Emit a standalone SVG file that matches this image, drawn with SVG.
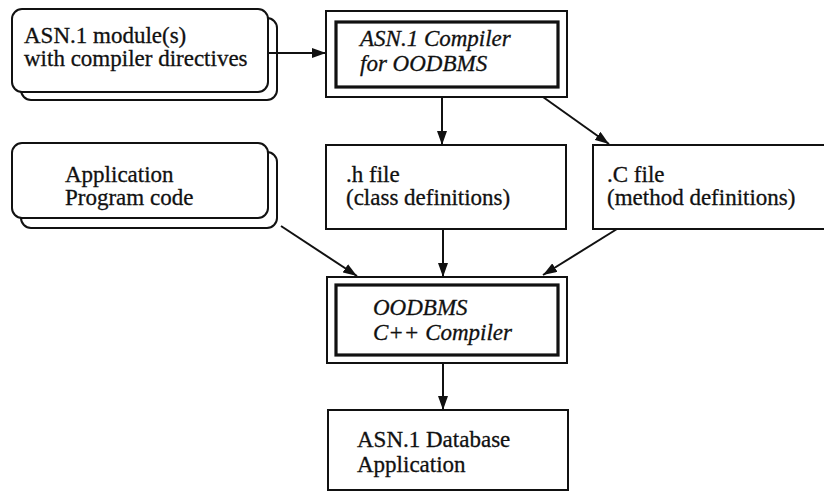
<svg xmlns="http://www.w3.org/2000/svg" width="824" height="495" viewBox="0 0 824 495">
  <style>
    .box { fill: #fff; stroke: #111; stroke-width: 2; }
    .outer { fill: #fff; stroke: #111; stroke-width: 2; }
    .inner { fill: none; stroke: #111; stroke-width: 3.2; }
    .label { font-family: "Liberation Serif", "Times New Roman", serif; font-size: 23px; fill: #111; stroke: #111; stroke-width: 0.3; }
    .ital { font-style: italic; }
    .edge { stroke: #111; stroke-width: 2; fill: none; marker-end: url(#head); }
  </style>
  <defs>
    <marker id="head" viewBox="0 0 14 10" refX="14" refY="5" markerWidth="14" markerHeight="10" markerUnits="userSpaceOnUse" orient="auto">
      <path d="M0,0 L14,5 L0,10 Z" fill="#111"/>
    </marker>
  </defs>
  <rect width="824" height="495" fill="#fff"/>

  <!-- source modules (stacked sheets) -->
  <g id="asn1-modules">
    <rect class="box" x="21" y="18" width="256" height="82" rx="10"/>
    <rect class="box" x="12" y="9" width="256" height="83" rx="10"/>
    <text class="label" x="24" y="43">ASN.1 module(s)</text>
    <text class="label" x="24" y="66">with compiler directives</text>
  </g>

  <!-- ASN.1 compiler -->
  <g id="asn1-compiler">
    <rect class="outer" x="326" y="11" width="241" height="86"/>
    <rect class="inner" x="336" y="22" width="222" height="65"/>
    <text class="label ital" x="360" y="46">ASN.1 Compiler</text>
    <text class="label ital" x="360" y="71">for OODBMS</text>
  </g>

  <!-- application code (stacked sheets) -->
  <g id="app-code">
    <rect class="box" x="21" y="152" width="256" height="76" rx="10"/>
    <rect class="box" x="12" y="143" width="256" height="75" rx="10"/>
    <text class="label" x="65" y="182">Application</text>
    <text class="label" x="65" y="205">Program code</text>
  </g>

  <!-- generated header -->
  <g id="h-file">
    <rect class="box" x="326" y="145" width="240" height="84"/>
    <text class="label" x="346" y="182">.h file</text>
    <text class="label" x="346" y="205">(class definitions)</text>
  </g>

  <!-- generated methods -->
  <g id="c-file">
    <rect class="box" x="593" y="145" width="240" height="84"/>
    <text class="label" x="607" y="182">.C file</text>
    <text class="label" x="607" y="205">(method definitions)</text>
  </g>

  <!-- C++ compiler -->
  <g id="cpp-compiler">
    <rect class="outer" x="327" y="277" width="240" height="86"/>
    <rect class="inner" x="336" y="285" width="222" height="70"/>
    <text class="label ital" x="373" y="315">OODBMS</text>
    <text class="label ital" x="373" y="340">C++ Compiler</text>
  </g>

  <!-- resulting application -->
  <g id="db-app">
    <rect class="box" x="328" y="410" width="240" height="80"/>
    <text class="label" x="357" y="447">ASN.1 Database</text>
    <text class="label" x="357" y="472">Application</text>
  </g>

  <g id="connectors">
    <line class="edge" x1="268" y1="53" x2="326" y2="53"/>
    <line class="edge" x1="442" y1="97" x2="442" y2="145"/>
    <line class="edge" x1="543" y1="97" x2="609" y2="144"/>
    <line class="edge" x1="281" y1="226" x2="357" y2="276"/>
    <line class="edge" x1="443" y1="229" x2="443" y2="277"/>
    <line class="edge" x1="617" y1="229" x2="543" y2="275"/>
    <line class="edge" x1="443" y1="363" x2="443" y2="410"/>
  </g>
</svg>
